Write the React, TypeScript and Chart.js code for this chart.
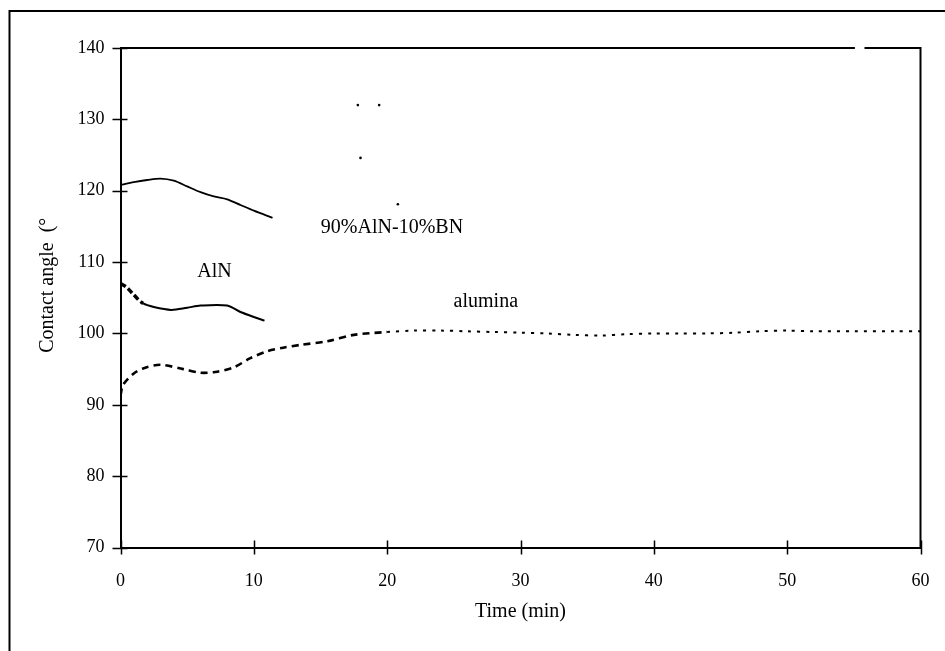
import React, { useEffect, useRef } from "react";
import { Chart, registerables } from "chart.js";

Chart.register(...registerables);

// ---- data ----
const xTickValues = [0, 10, 20, 30, 40, 50, 60];
const yTickValues = [70, 80, 90, 100, 110, 120, 130, 140];

const bnTime = [0, 1, 2, 3, 4, 5, 6, 7, 8, 9, 10, 11.4];
const bnAngle = [120.8, 121.2, 121.5, 121.7, 121.4, 120.6, 119.8, 119.2, 118.8, 118.0, 117.2, 116.2];

const alnTime = [0, 0.5, 1, 1.7, 2.5, 3.8, 5, 6, 8, 9, 10, 10.8];
const alnAngle = [107.0, 106.4, 105.4, 104.2, 103.7, 103.3, 103.6, 103.9, 103.9, 103.0, 102.3, 101.8];

const aluminaTime = [0, 0.2, 1, 1.7, 3, 4.7, 6, 7.1, 8.5, 9.7, 11, 12.2, 13.5, 15.5, 17.5, 20, 22, 24, 26, 28, 30, 32, 34, 36, 38, 40, 42, 44, 46, 48, 50, 52, 55, 58, 60];
const aluminaAngle = [91.3, 92.8, 94.4, 95.1, 95.6, 95.0, 94.5, 94.6, 95.25, 96.5, 97.5, 98.0, 98.4, 98.9, 99.8, 100.2, 100.4, 100.4, 100.3, 100.2, 100.1, 100.0, 99.8, 99.7, 99.9, 100.0, 100.0, 100.0, 100.1, 100.3, 100.4, 100.3, 100.3, 100.3, 100.3];

const speckTime = [17.8, 19.4, 18.0, 20.8];
const speckAngle = [132.0, 132.0, 124.6, 118.1];

const labelTexts = ["90%AlN-10%BN", "AlN", "alumina"];
const labelTime = [20.36, 7.05, 27.4];
const labelAngle = [114.8, 108.6, 104.4];

const zip = (xs: number[], ys: number[]) => xs.map((x, i) => ({ x, y: ys[i] }));

const SERIF = '"Liberation Serif", "Times New Roman", serif';

const decorPlugin = {
  id: "decor",
  afterDraw(chart: any) {
    const { ctx, chartArea: a, scales } = chart;
    const xs = scales.x;
    const ys = scales.y;
    ctx.save();
    ctx.strokeStyle = "#000";
    ctx.fillStyle = "#000";
    ctx.lineWidth = 2;
    // outer frame (left + top)
    ctx.beginPath();
    ctx.moveTo(9.5, chart.height);
    ctx.lineTo(9.5, 11);
    ctx.lineTo(chart.width, 11);
    ctx.stroke();
    // plot top border with small gap, and right border
    const gapL = a.left + (a.right - a.left) * 0.918;
    const gapR = a.left + (a.right - a.left) * 0.93;
    ctx.beginPath();
    ctx.moveTo(a.left, a.top);
    ctx.lineTo(gapL, a.top);
    ctx.moveTo(gapR, a.top);
    ctx.lineTo(a.right, a.top);
    ctx.lineTo(a.right, a.bottom);
    ctx.stroke();
    // crossing tick marks
    ctx.lineWidth = 1.5;
    ctx.beginPath();
    xTickValues.forEach((v) => {
      const px = Math.round(xs.getPixelForValue(v)) + 0.5;
      ctx.moveTo(px, a.bottom - 7);
      ctx.lineTo(px, a.bottom + 7);
    });
    yTickValues.forEach((v) => {
      const py = Math.round(ys.getPixelForValue(v)) + 0.5;
      ctx.moveTo(a.left - 8, py);
      ctx.lineTo(a.left + 7, py);
    });
    ctx.stroke();
    // annotations
    ctx.font = `20px ${SERIF}`;
    ctx.textAlign = "center";
    ctx.textBaseline = "middle";
    labelTexts.forEach((t, i) => {
      ctx.fillText(t, xs.getPixelForValue(labelTime[i]), ys.getPixelForValue(labelAngle[i]));
    });
    ctx.restore();
  },
};

export default function App() {
  const ref = useRef<HTMLCanvasElement | null>(null);

  useEffect(() => {
    if (!ref.current) return;
    const chart = new Chart(ref.current, {
      type: "line",
      data: {
        datasets: [
          {
            label: "90%AlN-10%BN",
            data: zip(bnTime, bnAngle),
            borderColor: "#000",
            borderWidth: 1.8,
            pointRadius: 0,
            tension: 0.3,
            fill: false,
          },
          {
            label: "AlN",
            data: zip(alnTime, alnAngle),
            borderColor: "#000",
            borderWidth: 2,
            pointRadius: 0,
            tension: 0.3,
            fill: false,
            segment: {
              borderDash: (c: any) => (c.p0DataIndex < 3 ? [6, 3] : []),
              borderWidth: (c: any) => (c.p0DataIndex < 3 ? 3.5 : 2),
            },
          },
          {
            label: "alumina",
            data: zip(aluminaTime, aluminaAngle),
            borderColor: "#000",
            borderWidth: 2.6,
            pointRadius: 0,
            tension: 0.3,
            fill: false,
            borderDash: [7, 5],
            segment: {
              borderDash: (c: any) => (c.p0DataIndex < 15 ? [7, 5] : [3, 6]),
              borderWidth: (c: any) => (c.p0DataIndex < 15 ? 2.6 : 2),
            },
          },
          {
            label: "specks",
            data: zip(speckTime, speckAngle),
            showLine: false,
            pointRadius: 1.3,
            pointBorderWidth: 0,
            pointBackgroundColor: "#000",
            borderColor: "#000",
          },
        ],
      },
      options: {
        responsive: false,
        animation: false,
        layout: { padding: { top: 48, right: 24.5, left: 0, bottom: 0 } },
        plugins: { legend: { display: false }, tooltip: { enabled: false } },
        scales: {
          x: {
            type: "linear",
            min: 0,
            max: 60,
            afterFit: (s: any) => {
              s.height = 103.5;
              s.paddingLeft = 0;
              s.paddingRight = 0;
            },
            afterBuildTicks: (s: any) => {
              s.ticks = xTickValues.map((v) => ({ value: v }));
            },
            grid: { display: false, drawTicks: false },
            border: { display: true, color: "#000", width: 2 },
            ticks: {
              color: "#000",
              padding: 23,
              font: { family: SERIF, size: 18 },
              maxRotation: 0,
            },
            title: {
              display: true,
              text: "Time (min)",
              color: "#000",
              font: { family: SERIF, size: 20 },
              padding: { top: 0, bottom: 27 },
            },
          },
          y: {
            type: "linear",
            min: 70,
            max: 140,
            afterFit: (s: any) => {
              s.width = 120.5;
              s.paddingTop = 0;
              s.paddingBottom = 0;
            },
            afterBuildTicks: (s: any) => {
              s.ticks = yTickValues.map((v) => ({ value: v }));
            },
            grid: { display: false, drawTicks: false },
            border: { display: true, color: "#000", width: 2 },
            ticks: {
              color: "#000",
              padding: 16,
              font: { family: SERIF, size: 18 },
            },
            title: {
              display: true,
              text: "     Contact angle  (°",
              color: "#000",
              font: { family: SERIF, size: 20 },
              padding: { top: 35.5, bottom: 0 },
            },
          },
        },
      },
      plugins: [decorPlugin],
    });
    return () => chart.destroy();
  }, []);

  return (
    <canvas
      ref={ref}
      width={945}
      height={651}
      style={{ position: "absolute", left: 0, top: 0, display: "block" }}
    />
  );
}
